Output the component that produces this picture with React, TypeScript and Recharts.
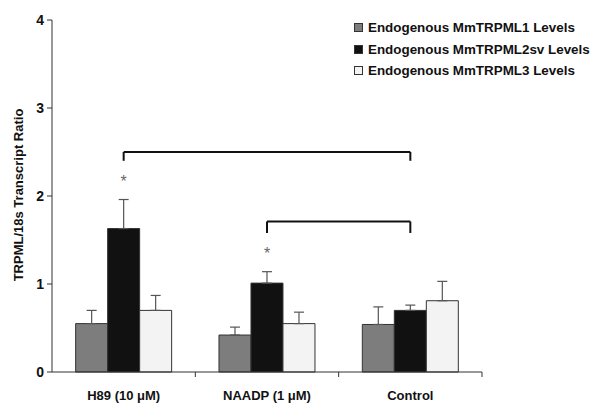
import React from 'react';
import { BarChart, Bar, XAxis, YAxis, ErrorBar, ReferenceLine, ReferenceDot, Legend, Label } from 'recharts';

const categories = ['H89 (10 μM)', 'NAADP (1 μM)', 'Control'];
const trpml1 = [0.55, 0.42, 0.54];
const trpml1Err = [0.15, 0.09, 0.2];
const trpml2sv = [1.63, 1.01, 0.7];
const trpml2svErr = [0.33, 0.13, 0.06];
const trpml3 = [0.7, 0.55, 0.81];
const trpml3Err = [0.17, 0.13, 0.22];
const significant = [true, true, false];
const yTicks = [0, 1, 2, 3, 4];

const brackets = [
  { from: 'H89 (10 μM)', to: 'Control', top: 2.5, bottom: 2.4 },
  { from: 'NAADP (1 μM)', to: 'Control', top: 1.71, bottom: 1.58 },
];

const series = [
  { key: 'tr1', name: 'Endogenous MmTRPML1 Levels', fill: '#7d7d7d' },
  { key: 'tr2', name: 'Endogenous MmTRPML2sv Levels', fill: '#111111' },
  { key: 'tr3', name: 'Endogenous MmTRPML3 Levels', fill: '#f3f3f3' },
];

const data = categories.map((name, i) => ({
  name,
  tr1: trpml1[i],
  tr1Err: [0, trpml1Err[i]],
  tr2: trpml2sv[i],
  tr2Err: [0, trpml2svErr[i]],
  tr3: trpml3[i],
  tr3Err: [0, trpml3Err[i]],
}));

const FONT = '"Liberation Sans", Arial, sans-serif';

const XTick = (props: any) => {
  const { x, y, payload } = props;
  const half = payload && payload.offset ? payload.offset : 71.7;
  return (
    <g>
      <line x1={x + half} x2={x + half} y1={y} y2={y + 5} stroke="#333" strokeWidth={1} />
      <text x={x} y={y + 28} textAnchor="middle" fontFamily={FONT} fontWeight="bold" fontSize={13} fill="#111">
        {payload.value}
      </text>
    </g>
  );
};

const LegendContent = () => (
  <div style={{ fontFamily: FONT, fontWeight: 'bold', fontSize: 13.4, color: '#111' }}>
    {series.map((s) => (
      <div key={s.key} style={{ display: 'flex', alignItems: 'center', height: 21.5 }}>
        <span
          style={{
            display: 'inline-block',
            width: 7,
            height: 7,
            background: s.fill,
            border: '1px solid #333',
            marginRight: 5,
          }}
        />
        <span>{s.name}</span>
      </div>
    ))}
  </div>
);

const YLabel = (props: any) => {
  const vb = props.viewBox || { x: 12, y: 20, width: 40, height: 352 };
  const cx = vb.x + 6;
  const cy = vb.y + vb.height / 2 - 1;
  return (
    <text
      x={cx}
      y={cy}
      transform={`rotate(-90, ${cx}, ${cy})`}
      textAnchor="middle"
      dominantBaseline="central"
      fontFamily={FONT}
      fontWeight="bold"
      fontSize={13}
      fill="#111"
    >
      TRPML/18s Transcript Ratio
    </text>
  );
};

export default function App() {
  return (
    <div style={{ position: 'absolute', left: 0, top: 0, width: 600, height: 409, background: '#fff' }}>
      <BarChart
        width={600}
        height={409}
        data={data}
        margin={{ top: 20, right: 118, left: 12, bottom: 7 }}
        barCategoryGap="16.5%"
        barGap={0}
      >
        <XAxis
          dataKey="name"
          height={30}
          axisLine={{ stroke: '#333' }}
          tickLine={false}
          tickSize={0}
          tickMargin={0}
          tick={<XTick />}
          interval={0}
        />
        <YAxis
          width={40}
          domain={[0, 4]}
          ticks={yTicks}
          axisLine={{ stroke: '#333' }}
          tickLine={{ stroke: '#333' }}
          tickSize={5}
          tickMargin={3}
          tick={{ fontFamily: FONT, fontWeight: 'bold', fontSize: 14, fill: '#111' }}
        >
          <Label content={<YLabel />} />
        </YAxis>
        <Legend
          layout="vertical"
          align="center"
          verticalAlign="middle"
          wrapperStyle={{ top: 17, left: 354, width: 240 }}
          content={<LegendContent />}
        />
        {series.map((s) => (
          <Bar key={s.key} dataKey={s.key} name={s.name} fill={s.fill} stroke="#333" strokeWidth={1} isAnimationActive={false}>
            <ErrorBar dataKey={`${s.key}Err`} direction="y" width={5} stroke="#555" strokeWidth={1.2} />
          </Bar>
        ))}
        {brackets.map((b, i) => (
          <ReferenceLine
            key={`h${i}`}
            segment={[{ x: b.from, y: b.top }, { x: b.to, y: b.top }]}
            stroke="#111"
            strokeWidth={2}
          />
        ))}
        {brackets.map((b, i) => (
          <ReferenceLine
            key={`l${i}`}
            segment={[{ x: b.from, y: b.bottom }, { x: b.from, y: b.top }]}
            stroke="#111"
            strokeWidth={2}
          />
        ))}
        {brackets.map((b, i) => (
          <ReferenceLine
            key={`r${i}`}
            segment={[{ x: b.to, y: b.bottom }, { x: b.to, y: b.top }]}
            stroke="#111"
            strokeWidth={2}
          />
        ))}
        {categories.map((c, i) =>
          significant[i] ? (
            <ReferenceDot
              key={`s${i}`}
              x={c}
              y={trpml2sv[i] + trpml2svErr[i]}
              r={1}
              fill="none"
              stroke="none"
              label={{ value: '*', position: 'top', offset: 12, fontSize: 16, fill: '#666', fontFamily: FONT }}
            />
          ) : null
        )}
      </BarChart>
    </div>
  );
}
